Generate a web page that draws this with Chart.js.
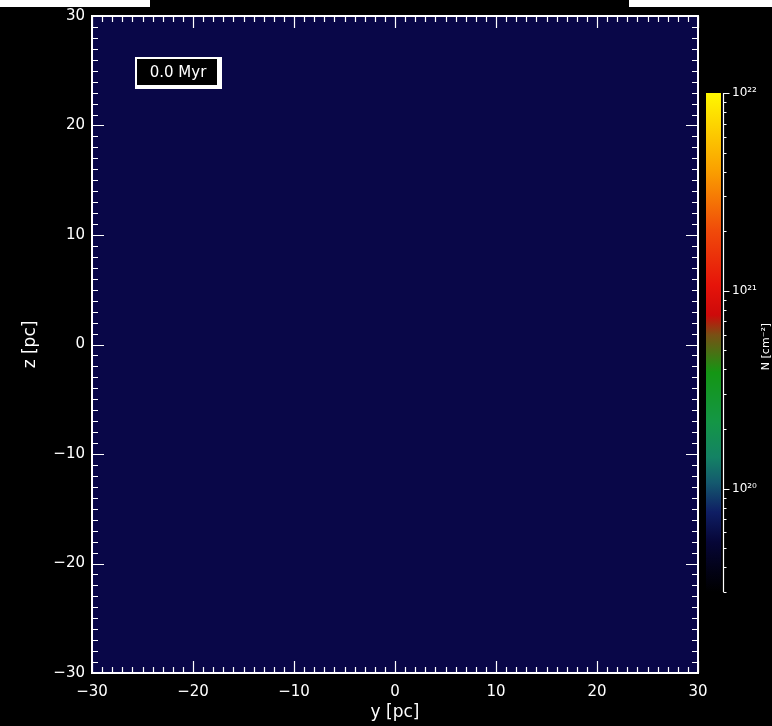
<!DOCTYPE html>
<html>
<head>
<meta charset="utf-8">
<script src="https://cdn.jsdelivr.net/npm/chart.js@4.4.1/dist/chart.umd.min.js"></script>
<style>
  html, body { margin: 0; padding: 0; background: #000; }
  #wrap { position: relative; width: 772px; height: 726px; overflow: hidden; background: #000; }
  #mapChart { position: absolute; left: 0; top: 0; }
  #barChart { position: absolute; left: 700px; top: 0; }
  .strip { position: absolute; top: 0; height: 7px; background: #fff; }
</style>
</head>
<body>
<div id="wrap">
  <canvas id="mapChart" width="772" height="726"></canvas>
  <canvas id="barChart" width="72" height="726"></canvas>
  <div class="strip" style="left:0;width:150px"></div>
  <div class="strip" style="left:629px;width:143px"></div>
</div>
<script>
// axes of the projected map, in parsec
const axisMin = -30;
const axisMax = 30;
const majorTicks = [-30, -20, -10, 0, 10, 20, 30];
const xTitle = 'y [pc]';
const yTitle = 'z [pc]';
const timeLabel = '0.0 Myr';

// column density colour bar (cm^-2)
const cbarMin = 3e19;
const cbarMax = 1e22;
const cbarDecades = [19, 20, 21, 22];
const cbarTitle = 'N [cm⁻²]';

// colour map, bottom (0) to top (1)
const cmapStops = [0, 0.04, 0.10, 0.16, 0.22, 0.27, 0.34, 0.44, 0.515, 0.555, 0.615, 0.725, 0.845, 1];
const cmapColors = [
  'rgb(0,0,0)', 'rgb(2,2,20)', 'rgb(6,6,55)', 'rgb(15,30,100)', 'rgb(20,90,110)',
  'rgb(20,130,100)', 'rgb(20,150,70)', 'rgb(20,150,20)', 'rgb(120,80,20)',
  'rgb(205,10,10)', 'rgb(230,20,10)', 'rgb(240,75,10)', 'rgb(250,160,0)', 'rgb(255,248,0)'
];

const fieldColor = 'rgb(9,7,72)';
const fontFamily = "'DejaVu Sans', sans-serif";

const fmtMinus = v => String(v).replace('-', '\u2212');

// map background, frame, inward ticks and the time stamp
const mapDecor = {
  id: 'mapDecor',
  beforeDraw(chart) {
    const { ctx, chartArea: a } = chart;
    ctx.save();
    ctx.fillStyle = '#000';
    ctx.fillRect(0, 0, chart.width, chart.height);
    ctx.fillStyle = fieldColor;
    ctx.fillRect(a.left, a.top, a.right - a.left, a.bottom - a.top);
    ctx.restore();
  },
  afterDraw(chart) {
    const { ctx, chartArea: a, scales: { x, y } } = chart;
    ctx.save();
    ctx.strokeStyle = '#fff';
    ctx.lineWidth = 1.2;
    ctx.beginPath();
    for (let v = axisMin; v <= axisMax; v++) {
      const len = v % 10 === 0 ? 12 : 6;
      const px = Math.round(x.getPixelForValue(v)) + 0.5;
      ctx.moveTo(px, a.bottom); ctx.lineTo(px, a.bottom - len);
      ctx.moveTo(px, a.top); ctx.lineTo(px, a.top + len);
      const py = Math.round(y.getPixelForValue(v)) + 0.5;
      ctx.moveTo(a.left, py); ctx.lineTo(a.left + len, py);
      ctx.moveTo(a.right, py); ctx.lineTo(a.right - len, py);
    }
    ctx.stroke();
    ctx.lineWidth = 2;
    ctx.strokeRect(a.left, a.top, a.right - a.left, a.bottom - a.top);

    // time stamp box
    const bx = a.left + 43, by = a.top + 41;
    ctx.fillStyle = '#fff';
    ctx.fillRect(bx, by, 87, 32);
    ctx.fillStyle = '#000';
    ctx.fillRect(bx + 2, by + 2, 80, 26);
    ctx.fillStyle = '#fff';
    ctx.font = '15px ' + fontFamily;
    ctx.textAlign = 'center';
    ctx.textBaseline = 'middle';
    ctx.fillText(timeLabel, bx + 43, by + 16);
    ctx.restore();
  }
};

const tickFont = { family: fontFamily, size: 15 };
const titleFont = { family: fontFamily, size: 17 };

new Chart(document.getElementById('mapChart'), {
  type: 'scatter',
  data: { datasets: [] },
  options: {
    responsive: false,
    animation: false,
    layout: { padding: { top: 8, right: 74, left: 0, bottom: 0 } },
    plugins: { legend: { display: false }, tooltip: { enabled: false } },
    scales: {
      x: {
        type: 'linear', min: axisMin, max: axisMax,
        afterBuildTicks: s => { s.ticks = majorTicks.map(v => ({ value: v })); },
        afterFit: s => { s.height = 53; },
        grid: { display: false, drawTicks: false },
        border: { display: false },
        ticks: { color: '#fff', font: tickFont, padding: 10, maxRotation: 0, callback: fmtMinus },
        title: { display: true, text: xTitle, color: '#fff', font: titleFont, padding: { top: 0, bottom: 3 } }
      },
      y: {
        type: 'linear', min: axisMin, max: axisMax,
        afterBuildTicks: s => { s.ticks = majorTicks.map(v => ({ value: v })); },
        afterFit: s => { s.width = 92; },
        grid: { display: false, drawTicks: false },
        border: { display: false },
        ticks: { color: '#fff', font: tickFont, padding: 7, callback: fmtMinus },
        title: { display: true, text: yTitle, color: '#fff', font: titleFont, padding: { top: 20, bottom: 0 } }
      }
    }
  },
  plugins: [mapDecor]
});

// colour bar
const sup = n => String(n).split('').map(c => '⁰¹²³⁴⁵⁶⁷⁸⁹'[+c]).join('');

function cbarGradient(chart) {
  const a = chart.chartArea;
  if (!a) return cmapColors[0];
  const g = chart.ctx.createLinearGradient(0, a.bottom, 0, a.top);
  cmapStops.forEach((s, i) => g.addColorStop(s, cmapColors[i]));
  return g;
}

const cbarAxis = {
  id: 'cbarAxis',
  afterDraw(chart) {
    const { ctx, chartArea: a, scales: { y } } = chart;
    const lx = a.right + 2.5;
    ctx.save();
    ctx.strokeStyle = '#fff';
    ctx.lineWidth = 1.2;
    ctx.beginPath();
    ctx.moveTo(lx, y.getPixelForValue(cbarMin));
    ctx.lineTo(lx, y.getPixelForValue(cbarMax));
    cbarDecades.forEach(d => {
      for (let m = 1; m <= 9; m++) {
        const v = m * Math.pow(10, d);
        if (v < cbarMin || v > cbarMax * 1.0001) continue;
        const py = Math.round(y.getPixelForValue(v)) + 0.5;
        ctx.moveTo(lx, py);
        ctx.lineTo(lx + (m === 1 ? 6 : 3), py);
      }
    });
    ctx.stroke();
    ctx.fillStyle = '#fff';
    ctx.font = '11px ' + fontFamily;
    ctx.textAlign = 'center';
    ctx.textBaseline = 'middle';
    ctx.translate(66, (a.top + a.bottom) / 2 + 4);
    ctx.rotate(-Math.PI / 2);
    ctx.fillText(cbarTitle, 0, 0);
    ctx.restore();
  }
};

new Chart(document.getElementById('barChart'), {
  type: 'bar',
  data: {
    labels: ['N'],
    datasets: [{
      data: [[cbarMin, cbarMax]],
      backgroundColor: c => cbarGradient(c.chart),
      borderWidth: 0,
      barPercentage: 1,
      categoryPercentage: 1
    }]
  },
  options: {
    responsive: false,
    animation: false,
    layout: { padding: { top: 93, bottom: 134, left: 6, right: 0 } },
    plugins: { legend: { display: false }, tooltip: { enabled: false } },
    scales: {
      x: { display: false },
      y: {
        type: 'logarithmic', position: 'right', min: cbarMin, max: cbarMax,
        afterBuildTicks: s => { s.ticks = cbarDecades.map(d => ({ value: Math.pow(10, d) })).filter(t => t.value >= cbarMin); },
        afterFit: s => { s.width = 51; },
        grid: { display: false, drawTicks: false },
        border: { display: false },
        ticks: {
          color: '#fff', font: { family: fontFamily, size: 12 }, padding: 11, autoSkip: false,
          callback: v => '10' + sup(Math.round(Math.log10(v)))
        }
      }
    }
  },
  plugins: [cbarAxis]
});
</script>
</body>
</html>
